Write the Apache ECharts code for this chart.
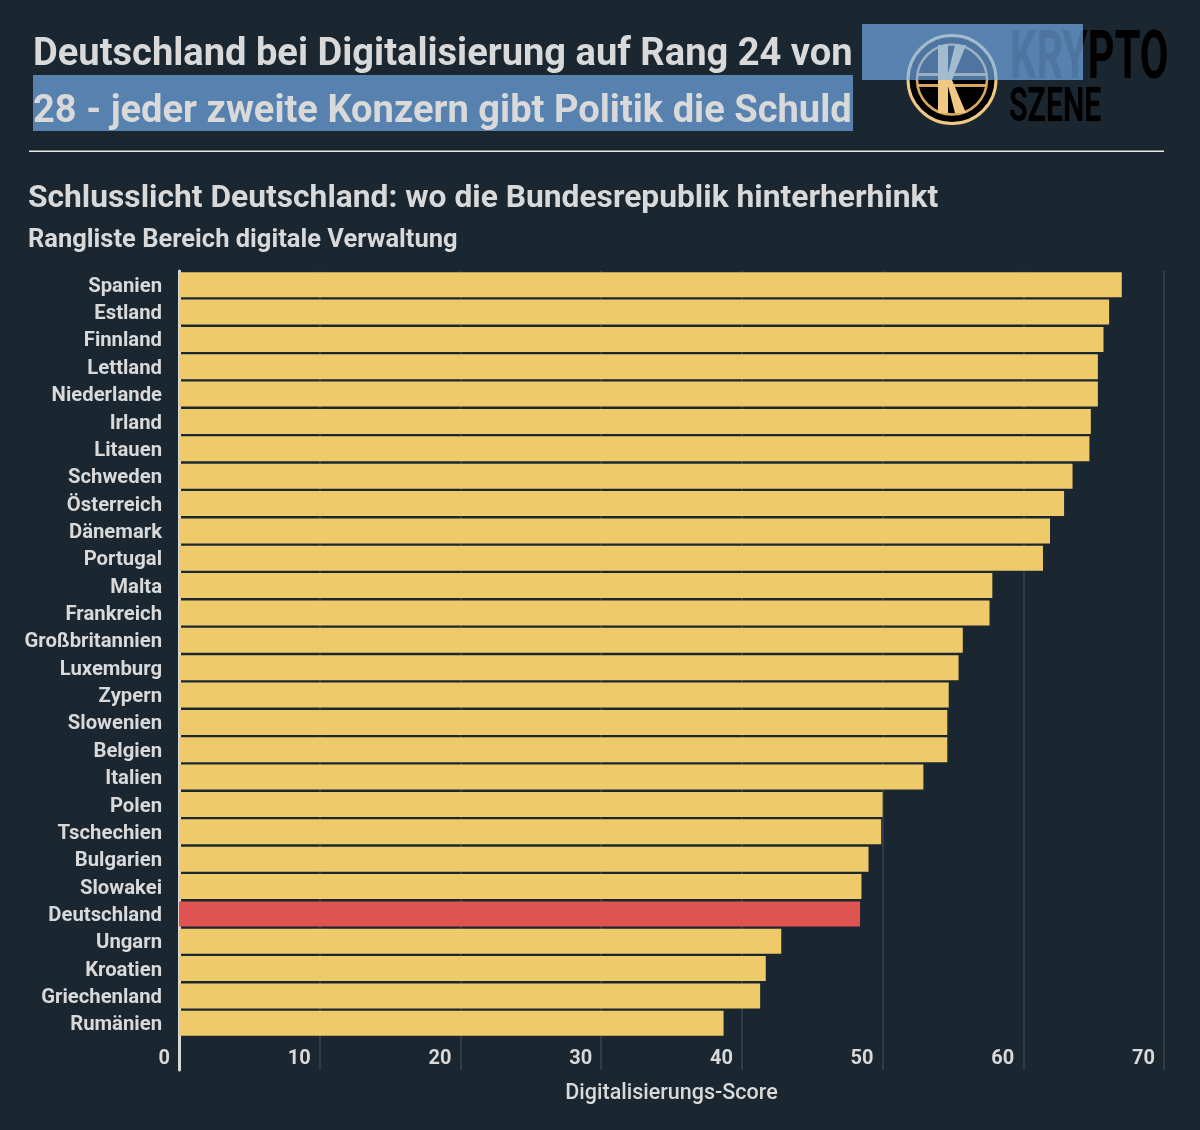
<!DOCTYPE html>
<html>

<head>
    <meta charset='UTF-8'>
    <style>
        html, body { margin: 0; padding: 0; background: #1a2630; }
        #chart { width: 1200px; height: 1130px; }
    </style>
</head>

<body>
    <div id="chart"></div>
    <script src="https://cdn.jsdelivr.net/npm/echarts@6/dist/echarts.min.js"></script>
    <script>
        const countries = ['Spanien', 'Estland', 'Finnland', 'Lettland', 'Niederlande', 'Irland', 'Litauen',
            'Schweden', 'Österreich', 'Dänemark', 'Portugal', 'Malta', 'Frankreich', 'Großbritannien',
            'Luxemburg', 'Zypern', 'Slowenien', 'Belgien', 'Italien', 'Polen', 'Tschechien', 'Bulgarien',
            'Slowakei', 'Deutschland', 'Ungarn', 'Kroatien', 'Griechenland', 'Rumänien']
        const scores = [67.0, 66.1, 65.7, 65.3, 65.3, 64.8, 64.7,
            63.5, 62.9, 61.9, 61.4, 57.8, 57.6, 55.7,
            55.4, 54.7, 54.6, 54.6, 52.9, 50.0, 49.9, 49.0,
            48.5, 48.4, 42.8, 41.7, 41.3, 38.7]
        const highlighted = 'Deutschland'

        const BG = '#1a2630'
        const TEXT = '#d9d9d9'
        const GRID = '#3a454e'
        const FONT = 'Roboto'

        function label(text, x, y, size, weight) {
            return { type: 'text', z: 30, style: { text, x, y, fill: TEXT, font: `${weight} ${size}px ${FONT}`, textVerticalAlign: 'middle' } }
        }

        // logo, drawn under the blue selection boxes
        const logo = [
            { type: 'circle', z: 10, shape: { cx: 952, cy: 79.5, r: 44 }, style: { fill: '#000', stroke: '#efc884', lineWidth: 3 } },
            { type: 'circle', z: 11, shape: { cx: 952, cy: 79.5, r: 35 }, style: { fill: 'none', stroke: '#d9a860', lineWidth: 2.5 } },
            { type: 'rect', z: 11, shape: { x: 917, y: 73, width: 70, height: 3 }, style: { fill: '#d9a860' } },
            { type: 'rect', z: 11, shape: { x: 917, y: 84, width: 70, height: 3 }, style: { fill: '#d9a860' } },
            { type: 'polygon', z: 12, shape: { points: [[938, 45], [948, 45], [948, 74], [955, 45], [966, 45], [952, 80], [966, 113], [955, 113], [948, 86], [948, 113], [938, 113]] }, style: { fill: '#efc884' } },
            { type: 'text', z: 12, scaleX: 0.63, x: 1010, style: { text: 'KRYPTO', x: 0, y: 61, fill: '#000', font: `700 66px ${FONT}`, textVerticalAlign: 'middle' } },
            { type: 'text', z: 12, scaleX: 0.63, x: 1009, style: { text: 'SZENE', x: 0, y: 109, fill: '#000', font: `700 48px ${FONT}`, textVerticalAlign: 'middle' } }
        ]

        const option = {
            backgroundColor: BG,
            animation: false,
            textStyle: { fontFamily: FONT },
            grid: [
                { left: 179, right: 36, top: 271, height: 766 },
                { left: 179, right: 36, top: 1037, height: 33 }
            ],
            xAxis: [
                {
                    gridIndex: 0, type: 'value', min: 0, max: 70, interval: 10,
                    axisLine: { show: false }, axisTick: { show: false }, axisLabel: { show: false },
                    splitLine: { lineStyle: { color: GRID, width: 1.5 } }
                },
                {
                    gridIndex: 1, type: 'value', min: 0, max: 70, interval: 10,
                    axisLine: { show: false }, axisTick: { show: false },
                    axisLabel: { inside: true, align: 'right', verticalAlign: 'bottom', margin: 1, padding: [0, 9, 0, 0], color: TEXT, fontSize: 20, fontWeight: 700, fontFamily: FONT },
                    splitLine: { lineStyle: { color: GRID, width: 1.5 } },
                    name: 'Digitalisierungs-Score', nameLocation: 'middle', nameGap: 24,
                    nameTextStyle: { color: TEXT, fontSize: 21.5, fontWeight: 500, fontFamily: FONT, verticalAlign: 'middle' }
                }
            ],
            yAxis: [
                {
                    gridIndex: 0, type: 'category', inverse: true, data: countries,
                    axisLine: { lineStyle: { color: TEXT, width: 3 } }, axisTick: { show: false },
                    axisLabel: {
                        interval: 0, margin: 17,
                        formatter: name => `{c|${name}}`,
                        rich: { c: { padding: [4, 0, 0, 0], color: TEXT, fontSize: 20.3, fontWeight: 700, fontFamily: FONT } }
                    }
                },
                {
                    gridIndex: 1, type: 'category', data: [''],
                    axisLine: { lineStyle: { color: TEXT, width: 3 } }, axisTick: { show: false }, axisLabel: { show: false }
                }
            ],
            series: [{
                type: 'bar',
                xAxisIndex: 0,
                yAxisIndex: 0,
                barWidth: 25,
                z: 5,
                data: scores.map((v, i) => ({
                    value: v,
                    itemStyle: { color: countries[i] === highlighted ? '#e05353' : '#efca6a' }
                }))
            }],
            graphic: logo.concat([
                { type: 'rect', z: 20, shape: { x: 862, y: 24, width: 221, height: 56 }, style: { fill: 'rgba(120,180,246,0.65)' } },
                { type: 'rect', z: 20, shape: { x: 33, y: 75, width: 820, height: 56 }, style: { fill: 'rgba(120,180,246,0.65)' } },
                label('Deutschland bei Digitalisierung auf Rang 24 von', 33, 55.5, 38.1, 700),
                label('28 - jeder zweite Konzern gibt Politik die Schuld', 33, 112.5, 38.1, 700),
                { type: 'rect', z: 30, shape: { x: 29, y: 150.5, width: 1135, height: 1.5 }, style: { fill: '#e8e8e8' } },
                label('Schlusslicht Deutschland: wo die Bundesrepublik hinterherhinkt', 28, 199.5, 31.75, 700),
                label('Rangliste Bereich digitale Verwaltung', 28, 241, 25.5, 700)
            ])
        }

        const chart = echarts.init(document.getElementById('chart'))
        chart.setOption(option)
    </script>
</body>

</html>
